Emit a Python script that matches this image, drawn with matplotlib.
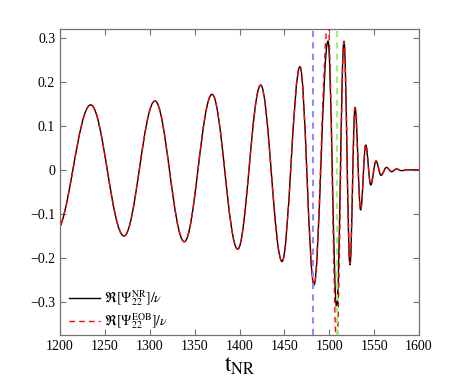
import matplotlib
matplotlib.use('Agg')
import matplotlib.pyplot as plt
from matplotlib.path import Path
from matplotlib.patches import PathPatch
from matplotlib.lines import Line2D

plt.rcParams['font.family'] = ['Liberation Serif', 'DejaVu Serif']
plt.rcParams['mathtext.fontset'] = 'stix'

# extrema of the waveform (time, value)
t_ext = [1195.0, 1234.2, 1271.3, 1305.8, 1338.5, 1369.4, 1398.0, 1423.6,
         1447.4, 1467.4, 1483.0, 1498.6, 1508.3, 1516.4, 1523.1, 1528.7,
         1535.0, 1540.6, 1546.2, 1552.1, 1557.7, 1563.8, 1569.4, 1574.9,
         1580.5, 1586.6, 1600.0]
nr_ext = [-0.141, 0.148, -0.150, 0.157, -0.163, 0.172, -0.180, 0.193,
          -0.208, 0.235, -0.261, 0.293, -0.314, 0.293, -0.216, 0.143,
          -0.091, 0.057, -0.034, 0.020, -0.012, 0.006, -0.004, 0.0025,
          -0.0015, 0.0005, 0.0]
eob_ext = [-0.141, 0.148, -0.150, 0.157, -0.163, 0.172, -0.180, 0.193,
           -0.208, 0.235, -0.262, 0.335, -0.400, 0.292, -0.214, 0.142,
           -0.090, 0.058, -0.033, 0.021, -0.011, 0.006, -0.003, 0.002,
           -0.001, 0.0005, 0.0]

# vertical markers
t_blue = 1482.0
t_green = 1508.6


def wave_path(t, v, k=0.363):
    # smooth curve through extrema: cubic segments with flat tangents
    verts = [(t[0], v[0])]
    codes = [Path.MOVETO]
    for i in range(1, len(t)):
        dt = t[i] - t[i-1]
        verts += [(t[i-1] + k*dt, v[i-1]), (t[i] - k*dt, v[i]), (t[i], v[i])]
        codes += [Path.CURVE4] * 3
    return Path(verts, codes)


fig = plt.figure(figsize=(4.63, 3.77), dpi=100)
ax = fig.add_axes([0.1296, 0.1114, 0.7754, 0.8117])

ax.add_patch(PathPatch(wave_path(t_ext, nr_ext), fill=False,
                       edgecolor='black', lw=1.0, zorder=2))
ax.add_patch(PathPatch(wave_path(t_ext, eob_ext), fill=False,
                       edgecolor='red', lw=1.0, linestyle=(0, (4, 3)),
                       zorder=3))
ax.axvline(t_blue, color='#8c8cff', lw=1.5, ls=(0, (3, 2.5)), zorder=4)
ax.axvline(t_green, color='#9cf07c', lw=1.5, ls=(0, (3, 2.5)), zorder=4)

ax.set_xlim(1200, 1600)
ax.set_ylim(-0.375, 0.3205)
ax.set_xticks([1200, 1250, 1300, 1350, 1400, 1450, 1500, 1550, 1600])
ax.set_yticks([-0.3, -0.2, -0.1, 0, 0.1, 0.2, 0.3])
ax.set_yticklabels(['\u22120.3', '\u22120.2', '\u22120.1', '0', '0.1',
                    '0.2', '0.3'])
ax.tick_params(direction='in', top=True, right=True, length=4,
               width=0.8, color='0.45', labelsize=10)
for sp in ax.spines.values():
    sp.set_color('0.45')
    sp.set_linewidth(0.9)

ax.set_xlabel(r'$\mathrm{t}_{\mathrm{NR}}$', fontsize=17, labelpad=1)

handles = [Line2D([], [], color='black', lw=1.0),
           Line2D([], [], color='red', lw=1.0, ls=(0, (4, 3)))]
labels = [r'$\Re[\Psi_{22}^{\mathrm{NR}}]/\nu$',
          r'$\Re[\Psi_{22}^{\mathrm{EOB}}]/\nu$']
ax.legend(handles, labels, loc='lower left', bbox_to_anchor=(0.01, -0.005),
          frameon=False, fontsize=10, handlelength=2.2, borderaxespad=0.0,
          labelspacing=0.2, handletextpad=0.3)

fig.savefig('out.png', dpi=100)
